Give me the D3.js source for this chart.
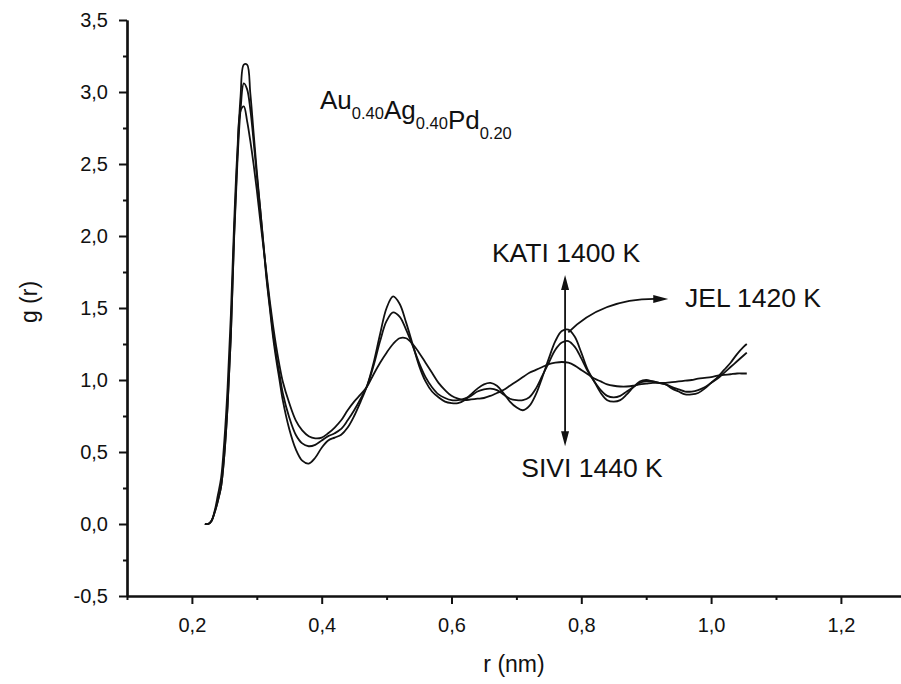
<!DOCTYPE html>
<html>
<head>
<meta charset="utf-8">
<script src="https://cdn.jsdelivr.net/npm/d3@7"></script>
<style>
  html, body { margin: 0; padding: 0; background: #fff; }
  svg { display: block; }
  text { font-family: "Liberation Sans", Arial, Helvetica, sans-serif; fill: #111; }
</style>
</head>
<body>
<svg id="chart" width="901" height="684"></svg>
<script>
// r (nm) sample positions
const rValues = [
  0.22,0.225,0.23,0.235,0.24,0.245,0.25,0.255,0.26,0.265,0.27,0.275,0.28,0.285,0.29,0.295,
  0.30,0.305,0.31,0.315,0.32,0.325,0.33,0.335,0.34,
  0.35,0.36,0.37,0.38,0.39,0.40,0.41,0.42,0.43,0.44,0.45,0.46,0.47,0.48,0.49,
  0.50,0.51,0.52,0.53,0.54,0.55,0.56,0.57,0.58,0.59,0.60,0.61,0.62,0.63,0.64,
  0.65,0.66,0.67,0.68,0.69,0.70,0.71,0.72,0.73,0.74,0.75,0.76,0.77,0.78,0.79,
  0.80,0.81,0.82,0.83,0.84,0.85,0.86,0.87,0.88,0.89,0.90,0.91,0.92,0.93,0.94,
  0.95,0.96,0.97,0.98,0.99,1.00,1.01,1.02,1.03,1.04,1.05,1.055
];
// g(r) – KATI 1400 K
const gKati = [
  0,0,0.02,0.08,0.16,0.26,0.48,0.82,1.30,2.00,2.55,2.97,3.19,3.19,2.99,2.72,
  2.45,2.20,1.95,1.70,1.50,1.30,1.14,1.00,0.86,
  0.66,0.52,0.44,0.42,0.46,0.53,0.58,0.60,0.62,0.67,0.75,0.85,0.96,1.12,1.32,
  1.50,1.58,1.53,1.40,1.25,1.10,0.99,0.92,0.88,0.85,0.84,0.84,0.86,0.90,0.94,
  0.97,0.98,0.96,0.91,0.85,0.81,0.79,0.82,0.90,1.02,1.15,1.27,1.34,1.35,1.30,
  1.19,1.07,0.99,0.91,0.86,0.85,0.86,0.90,0.95,0.99,1.00,0.99,0.98,0.97,0.94,
  0.92,0.90,0.90,0.91,0.94,0.98,1.02,1.07,1.12,1.18,1.23,1.25
];
// g(r) – JEL 1420 K
const gJel = [
  0,0,0.02,0.08,0.16,0.26,0.48,0.82,1.30,1.98,2.50,2.88,3.06,3.02,2.88,2.66,
  2.42,2.20,1.96,1.72,1.52,1.33,1.17,1.04,0.91,
  0.74,0.62,0.56,0.54,0.55,0.58,0.61,0.63,0.66,0.72,0.79,0.87,0.96,1.10,1.27,
  1.41,1.47,1.44,1.35,1.24,1.12,1.02,0.95,0.90,0.875,0.86,0.86,0.87,0.89,0.92,
  0.935,0.94,0.93,0.90,0.87,0.86,0.86,0.88,0.94,1.03,1.12,1.21,1.26,1.27,1.23,
  1.15,1.06,0.99,0.93,0.89,0.88,0.89,0.92,0.95,0.98,0.99,0.99,0.98,0.97,0.95,
  0.935,0.92,0.92,0.93,0.95,0.98,1.01,1.05,1.09,1.13,1.17,1.19
];
// g(r) – SIVI 1440 K
const gSivi = [
  0,0,0.02,0.09,0.20,0.32,0.58,0.95,1.45,2.08,2.58,2.87,2.90,2.80,2.66,2.50,
  2.32,2.12,1.93,1.74,1.55,1.38,1.23,1.10,0.99,
  0.84,0.72,0.65,0.61,0.595,0.60,0.63,0.67,0.72,0.79,0.85,0.90,0.955,1.04,1.12,
  1.19,1.25,1.29,1.29,1.25,1.19,1.12,1.05,0.98,0.93,0.89,0.87,0.86,0.865,0.87,
  0.875,0.89,0.91,0.93,0.96,0.99,1.02,1.05,1.07,1.09,1.11,1.12,1.125,1.12,1.10,
  1.07,1.04,1.01,0.99,0.97,0.96,0.955,0.955,0.96,0.97,0.975,0.98,0.98,0.98,0.985,
  0.99,0.995,1.0,1.01,1.015,1.02,1.03,1.035,1.04,1.045,1.045,1.045
];
const seriesNames = ["KATI 1400 K", "JEL 1420 K", "SIVI 1440 K"];
const xMajorTicks = [0.2, 0.4, 0.6, 0.8, 1.0, 1.2];
const xMinorTicks = [0.1, 0.3, 0.5, 0.7, 0.9, 1.1, 1.3];
const yMajorTicks = [-0.5, 0.0, 0.5, 1.0, 1.5, 2.0, 2.5, 3.0, 3.5];
const yMinorTicks = [-0.25, 0.25, 0.75, 1.25, 1.75, 2.25, 2.75, 3.25];
const xTitle = "r (nm)";
const yTitle = "g (r)";

const svg = d3.select("#chart");
const x = d3.scaleLinear().domain([0.1, 1.3]).range([127, 905.8]);
const y = d3.scaleLinear().domain([-0.5, 3.5]).range([596, 20]);
const loc = d3.formatLocale({decimal: ",", thousands: ".", grouping: [3], currency: ["", ""], minus: "-"});
const fmt = loc.format(".1f");

// minor ticks
const yMinor = svg.append("g").attr("transform", `translate(${x(0.1)},0)`)
  .call(d3.axisLeft(y).tickValues(yMinorTicks).tickSize(4).tickSizeOuter(0).tickFormat(""));
const xMinor = svg.append("g").attr("transform", `translate(0,${y(-0.5)})`)
  .call(d3.axisBottom(x).tickValues(xMinorTicks).tickSize(4).tickSizeOuter(0).tickFormat(""));
// major
const yAxis = svg.append("g").attr("transform", `translate(${x(0.1)},0)`)
  .call(d3.axisLeft(y).tickValues(yMajorTicks).tickSize(8).tickSizeOuter(0).tickPadding(11).tickFormat(fmt));
const xAxis = svg.append("g").attr("transform", `translate(0,${y(-0.5)})`)
  .call(d3.axisBottom(x).tickValues(xMajorTicks).tickSize(8).tickSizeOuter(0).tickPadding(14).tickFormat(fmt));

[yMinor, xMinor, yAxis, xAxis].forEach(g => {
  g.selectAll("path.domain").attr("stroke", "#111").attr("stroke-width", 2.2);
  g.selectAll(".tick line").attr("stroke", "#111").attr("stroke-width", 2);
  g.selectAll(".tick text").attr("font-size", 20).attr("fill", "#111")
    .attr("font-family", '"Liberation Sans", Arial, sans-serif');
});

// axis titles
svg.append("text").attr("x", 514).attr("y", 672).attr("text-anchor", "middle")
  .attr("font-size", 23).text(xTitle);
svg.append("text").attr("transform", "translate(37,302) rotate(-90)")
  .attr("text-anchor", "middle").attr("font-size", 23).text(yTitle);

// curves
const line = d3.line().x((d, i) => x(rValues[i])).y(d => y(d)).curve(d3.curveCatmullRom.alpha(0.5));
[gKati, gJel, gSivi].forEach((s, k) => {
  svg.append("path").datum(s).attr("d", line)
    .attr("fill", "none").attr("stroke", "#111").attr("stroke-width", 1.8)
    .attr("stroke-linejoin", "round").attr("data-name", seriesNames[k]);
});

// annotations
function arrowHead(tipX, tipY, dx, dy, len, half) {
  const n = Math.hypot(dx, dy), ux = dx / n, uy = dy / n;
  const bx = tipX - ux * len, by = tipY - uy * len;
  return `M${tipX},${tipY}L${bx - uy * half},${by + ux * half}L${bx + uy * half},${by - ux * half}Z`;
}
const arrowR = 0.775;
const ax = x(arrowR), ayTop = y(1.73), ayBot = y(0.54);
svg.append("line").attr("x1", ax).attr("x2", ax).attr("y1", ayTop + 8).attr("y2", ayBot - 8)
  .attr("stroke", "#111").attr("stroke-width", 1.8);
svg.append("path").attr("d", arrowHead(ax, ayTop, 0, -1, 15, 4)).attr("fill", "#111");
svg.append("path").attr("d", arrowHead(ax, ayBot, 0, 1, 15, 4)).attr("fill", "#111");

// curved arrow to JEL label
const p0 = [x(0.78), y(1.33)], p1 = [x(0.8325), y(1.57)], p2 = [x(0.934), y(1.5625)];
svg.append("path")
  .attr("d", `M${p0[0]},${p0[1]}Q${p1[0]},${p1[1]} ${p2[0] - 10},${p2[1]}`)
  .attr("fill", "none").attr("stroke", "#111").attr("stroke-width", 1.8);
svg.append("path").attr("d", arrowHead(p2[0], p2[1], 1, 0, 15, 4)).attr("fill", "#111");

svg.append("text").attr("x", ax + 1).attr("y", 262).attr("text-anchor", "middle")
  .attr("font-size", 26.5).text(seriesNames[0]);
svg.append("text").attr("x", 685).attr("y", 307).attr("font-size", 26.5).text(seriesNames[1]);
svg.append("text").attr("x", 592).attr("y", 477).attr("text-anchor", "middle")
  .attr("font-size", 26.5).text(seriesNames[2]);

// composition label
const comp = svg.append("text").attr("x", 320).attr("y", 109).attr("font-size", 26);
[["Au", "0.40"], ["Ag", "0.40"], ["Pd", "0.20"]].forEach(([el, sub]) => {
  comp.append("tspan").attr("dy", 0).text(el);
  comp.append("tspan").attr("font-size", 16.5).attr("dy", 10).text(sub);
  comp.append("tspan").attr("dy", -10).text("");
});
</script>
</body>
</html>
